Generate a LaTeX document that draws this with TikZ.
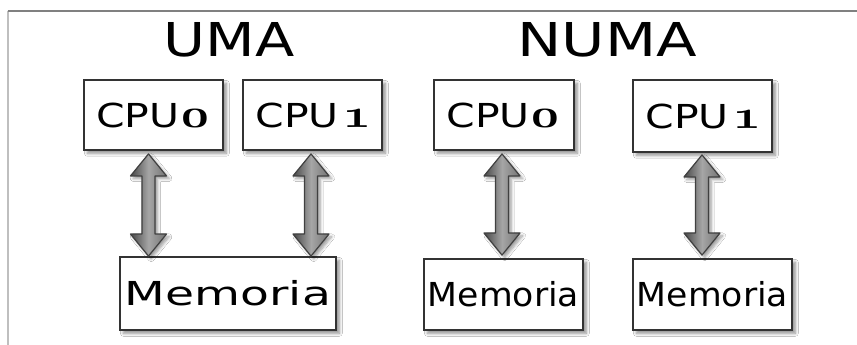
\documentclass[tikz,border=0pt]{standalone}
\usepackage{fontspec}
\setmainfont{DejaVu Sans}
\newfontfamily\numfont[Numbers=OldStyle]{Latin Modern Roman}
\usetikzlibrary{calc,shadows.blur}

% old-style figures for the processor numbers
\newcommand\cpunum[1]{{\numfont\bfseries\fontsize{30}{30}\selectfont #1}}

\tikzset{
  px/.style={x=0.75pt,y=-0.75pt},
  title/.style={anchor=base,inner sep=0pt,font=\fontsize{35}{40}\selectfont},
  unitbox/.style 2 args={draw=black!80,line width=1.4pt,fill=white,
    minimum width=#1*0.75pt,minimum height=#2*0.75pt,inner sep=0pt,
    font=\fontsize{24.75}{30}\selectfont,
    blur shadow={shadow xshift=2.5pt,shadow yshift=-2.5pt,
      shadow blur steps=8,shadow opacity=45}},
  bus/.style={draw=black!75,line width=0.9pt,line join=round,
    left color=black!72,right color=black!55,middle color=black!35,
    blur shadow={shadow xshift=2pt,shadow yshift=-2pt,
      shadow blur steps=6,shadow opacity=40}},
}

% double-headed block arrow between two points (top tip, bottom tip)
\newcommand\busarrow[2]{%
  \path[bus] (#1) -- ++(18,22) -- ++(-11.5,0)
    -- ($(#2)+(6.5,-22)$) -- ++(11.5,0) -- (#2) -- ++(-18,-22)
    -- ++(11.5,0) -- ($(#1)+(-6.5,22)$) -- ++(-11.5,0) -- cycle;}

\begin{document}
\begin{tikzpicture}[px]
\useasboundingbox (0,0) rectangle (857,345);
\fill[white] (0,0) rectangle (857,345);

% frame
\draw[black!25,line width=1.5pt] (8,345) -- (8,11);
\draw[black!50,line width=0.9pt] (7.5,11) -- (857,11);

% titles
\node[title,xscale=1.23] (tuma) at (229,57) {UMA};
\node[title,xscale=1.27] (tnuma) at (607,57) {NUMA};

% UMA: two processors sharing one memory
\node[unitbox={139}{70}] (u0) at (153.5,115)
  {\scalebox{1.24}[1]{CPU\cpunum{0}}};
\node[unitbox={139}{70}] (u1) at (312.5,115)
  {\scalebox{1.24}[1]{CPU\,\cpunum{1}}};
\node[unitbox={216}{73}] (um) at (228,293.5)
  {\scalebox{1.43}[1]{Memoria}};

% NUMA: each processor with its own memory
\node[unitbox={140}{70}] (n0) at (504,115)
  {\scalebox{1.24}[1]{CPU\cpunum{0}}};
\node[unitbox={139}{72}] (n1) at (702.5,116)
  {\scalebox{1.24}[1]{CPU\,\cpunum{1}}};
\node[unitbox={159}{71}] (nm0) at (503.5,294.5)
  {\scalebox{1.05}[1]{Memoria}};
\node[unitbox={159}{71}] (nm1) at (712.5,294.5)
  {\scalebox{1.05}[1]{Memoria}};

% buses
\coordinate (a0t) at ([xshift=-5*0.75pt,yshift=-3*0.75pt]u0.south);
\coordinate (a0b) at (a0t |- um.north);
\coordinate (a1t) at ([xshift=-1.5*0.75pt,yshift=-3*0.75pt]u1.south);
\coordinate (a1b) at (a1t |- um.north);
\coordinate (b0t) at ([xshift=-2*0.75pt,yshift=-3*0.75pt]n0.south);
\coordinate (b0b) at ([yshift=3*0.75pt]b0t |- nm0.north);
\coordinate (b1t) at ([xshift=-0.5*0.75pt,yshift=-2*0.75pt]n1.south);
\coordinate (b1b) at ([yshift=3*0.75pt]b1t |- nm1.north);

\busarrow{a0t}{a0b}
\busarrow{a1t}{a1b}
\busarrow{b0t}{b0b}
\busarrow{b1t}{b1b}
\end{tikzpicture}
\end{document}
